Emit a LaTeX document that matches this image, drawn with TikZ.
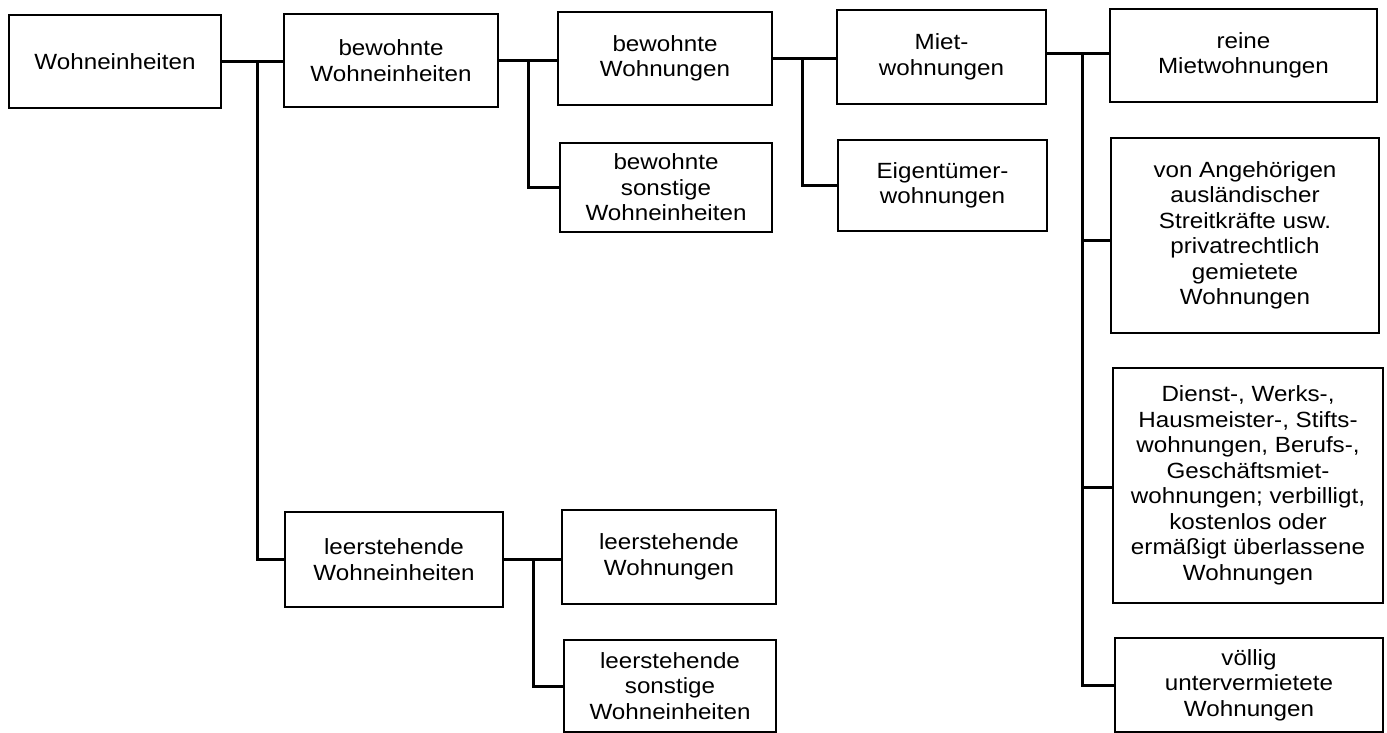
\documentclass[tikz,border=0pt]{standalone}
\usepackage{fontspec}
\setmainfont{Liberation Sans}[FakeStretch=1.1]
\begin{document}
\begin{tikzpicture}[x=1pt,y=-1pt,
  box/.style={draw, line width=2pt, align=center, inner sep=0pt,
    font=\fontsize{22}{25.5}\selectfont},
  conn/.style={line width=3pt}]
\useasboundingbox[fill=white] (0,0) rectangle (1387,733);

\node[box, minimum width=212pt, minimum height=93pt] (w) at (115,61.5) {Wohneinheiten};
\node[box, minimum width=214pt, minimum height=93pt] (bw) at (391,60.5) {bewohnte\\Wohneinheiten};
\node[box, minimum width=214pt, minimum height=93pt] (bwo) at (665,58.5) {bewohnte\\Wohnungen};
\node[box, minimum width=212pt, minimum height=89pt] (bso) at (666,187.5) {bewohnte\\sonstige\\Wohneinheiten};
\node[box, minimum width=209pt, minimum height=94pt] (miet) at (941.5,57) {Miet-\\wohnungen};
\node[box, minimum width=209pt, minimum height=91pt] (eig) at (942.5,185.5) {Eigentümer-\\wohnungen};
\node[box, minimum width=267pt, minimum height=93pt] (reine) at (1243.5,55.5) {reine\\Mietwohnungen};
\node[box, minimum width=268pt, minimum height=195pt] (ang) at (1245,235.5) {von Angehörigen\\ausländischer\\Streitkräfte usw.\\privatrechtlich\\gemietete\\Wohnungen};
\node[box, minimum width=270pt, minimum height=235pt] (dienst) at (1248,485.5) {Dienst-, Werks-,\\Hausmeister-, Stifts-\\wohnungen, Berufs-,\\Geschäftsmiet-\\wohnungen; verbilligt,\\kostenlos oder\\ermäßigt überlassene\\Wohnungen};
\node[box, minimum width=268pt, minimum height=94pt] (voellig) at (1249,685) {völlig\\untervermietete\\Wohnungen};
\node[box, minimum width=218pt, minimum height=95pt] (lwe) at (394,559.5) {leerstehende\\Wohneinheiten};
\node[box, minimum width=214pt, minimum height=94pt] (lwo) at (669,557) {leerstehende\\Wohnungen};
\node[box, minimum width=212pt, minimum height=92pt] (lso) at (670,686) {leerstehende\\sonstige\\Wohneinheiten};

\path (w.east) -- ++(35,0) coordinate (j1);
\path (bw.east) -- ++(29,0) coordinate (j2);
\path (bwo.east) -- ++(29,0) coordinate (j3);
\path (miet.east) ++(0,-3) -- ++(35,0) coordinate (j4);
\path (lwe.east) -- ++(29,0) coordinate (j5);

\draw[conn] (w.east) -- (w.east -| bw.west);
\draw[conn] (j1) |- (lwe.west);
\draw[conn] (bw.east) -- (bw.east -| bwo.west);
\draw[conn] (j2) |- (bso.west);
\draw[conn] (bwo.east) -- (bwo.east -| miet.west);
\draw[conn] (j3) |- (eig.west);
\draw[conn] (miet.east |- j4) -- (j4 -| reine.west);
\draw[conn] (j4) |- ([yshift=-5pt]ang.west);
\draw[conn] (j4) |- ([yshift=-2pt]dienst.west);
\draw[conn] (j4) |- (voellig.west);
\draw[conn] (lwe.east) -- (lwe.east -| lwo.west);
\draw[conn] (j5) |- (lso.west);
\end{tikzpicture}
\end{document}
